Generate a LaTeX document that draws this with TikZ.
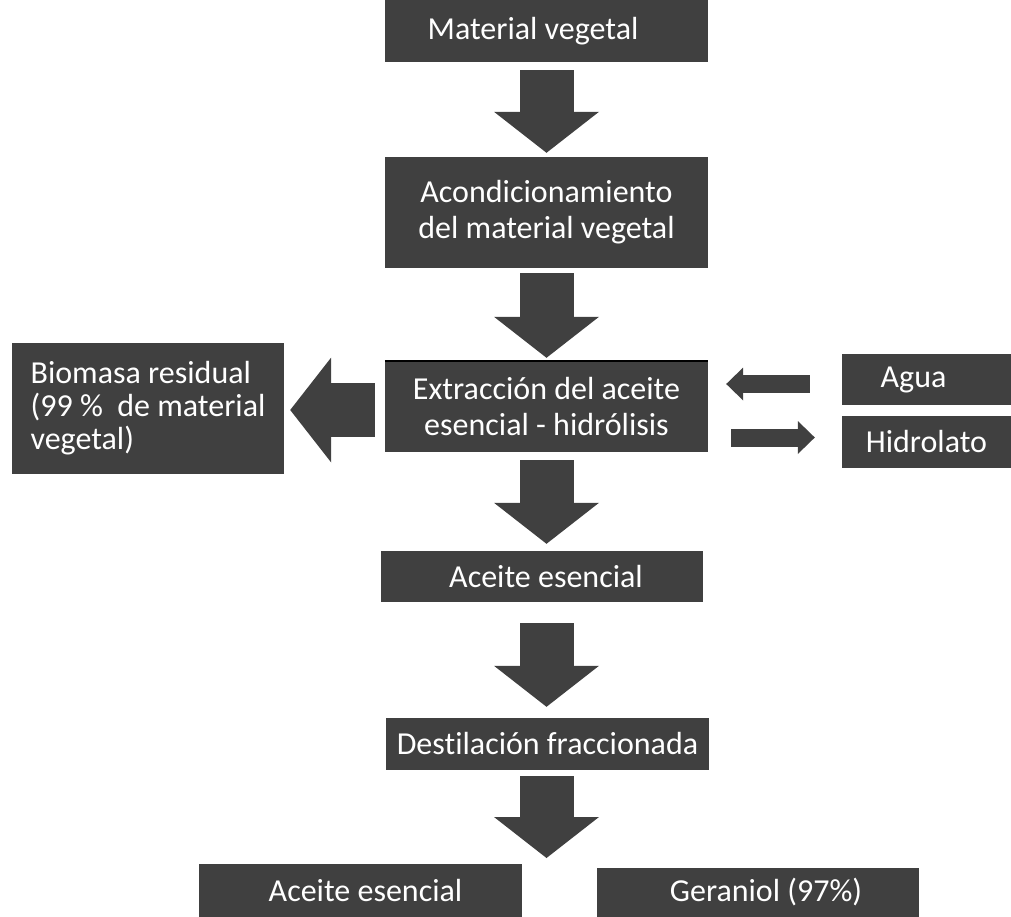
\documentclass[tikz,border=0pt]{standalone}
\usepackage{fontspec}
\setmainfont{Carlito}[Ligatures=NoCommon]
\usetikzlibrary{arrows.meta,calc}
\definecolor{boxgray}{RGB}{64,64,64}
\tikzset{
  stepbox/.style={fill=boxgray, text=white, inner sep=0pt, align=center, font=\fontsize{32}{36}\selectfont},
  bigarrow/.style={draw=boxgray, line width=54pt, -{Triangle[length=41pt,width=105pt,line width=0pt]}},
  smallarrow/.style={draw=boxgray, line width=18pt, -{Triangle[length=17pt,width=33pt,line width=0pt]}}
}

\begin{document}
\begin{tikzpicture}[x=1pt, y=-1pt]
    \useasboundingbox (0,0) rectangle (1011,917);

    % main column
    \node [stepbox, minimum width=323pt, minimum height=62pt] (mat) at (546.5,31) {Material vegetal\hspace*{27pt}};
    \node [stepbox, minimum width=323pt, minimum height=111pt] (acond) at (546.5,212.5) {Acondicionamiento\\del material vegetal};
    \node [stepbox, minimum width=323pt, minimum height=91pt] (extr) at (546.5,406.5) {Extracción del aceite\\esencial - hidrólisis};
    \draw [black, line width=1.5pt] (extr.north west) -- (extr.north east);
    \node [stepbox, minimum width=322pt, minimum height=51pt] (ace1) at (542,576.5) {\hspace*{8pt}Aceite esencial};
    \node [stepbox, minimum width=323pt, minimum height=52pt] (destil) at (547.5,744) {Destilación fraccionada};

    % side boxes
    \node [stepbox, minimum width=272pt, minimum height=131pt, align=left, font=\fontsize{32}{33}\selectfont] (bio) at (148,408.5) {Biomasa residual\\(99 \%\ \ de material\\vegetal)};
    \node [stepbox, minimum width=169pt, minimum height=51pt] (agua) at (926.5,379.5) {Agua\hspace*{26pt}};
    \node [stepbox, minimum width=169pt, minimum height=52pt] (hidro) at (926.5,442) {Hidrolato};

    % products
    \node [stepbox, minimum width=323pt, minimum height=53pt] (ace2) at (360.5,890.5) {\hspace*{10pt}Aceite esencial};
    \node [stepbox, minimum width=322pt, minimum height=49pt] (ger) at (758,892.5) {\hspace*{16pt}Geraniol (97\%)};
    \coordinate (split) at (546.5,858);

    % block arrows
    \draw [bigarrow, shorten <=8pt, shorten >=4pt] (mat) -- (acond);
    \draw [bigarrow, shorten <=5pt, shorten >=3pt] (acond) -- (extr);
    \draw [bigarrow, shorten <=8pt, shorten >=7pt] (extr.south) -- (extr.south |- ace1.north);
    \draw [bigarrow, shorten <=21pt, shorten >=11pt] (ace1.south -| mat.south) -- (destil.north -| mat.south);
    \draw [bigarrow, shorten <=6pt] (destil.south -| mat.south) -- (split);
    \draw [bigarrow, shorten <=10pt, shorten >=6pt] ($(extr.west)+(0,3.5)$) -- ($(bio.east)+(0,1.5)$);

    % water in, hydrolate out
    \draw [smallarrow, shorten <=32pt, shorten >=18pt] ($(agua.west)+(0,4.5)$) -- ($(extr.east)+(0,-22.5)$);
    \draw [smallarrow, shorten <=23pt, shorten >=27pt] ($(extr.east)+(0,31)$) -- ($(hidro.west)+(0,-4.5)$);
\end{tikzpicture}
\end{document}
